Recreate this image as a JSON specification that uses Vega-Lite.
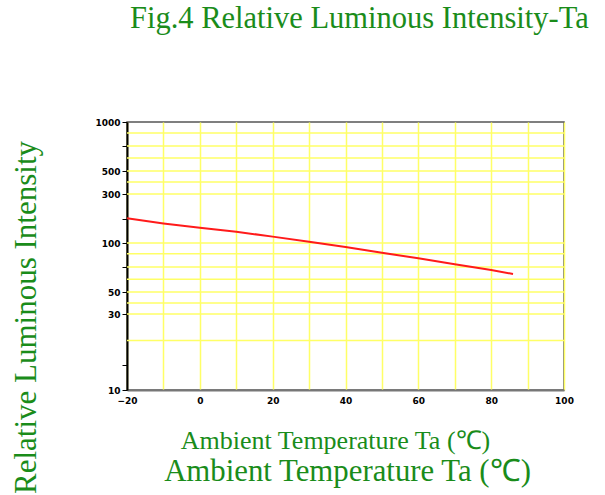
{
  "$schema": "https://vega.github.io/schema/vega-lite/v6.json",
  "width": 437,
  "height": 268,
  "autosize": "none",
  "padding": {"left": 127, "top": 122, "right": 41, "bottom": 105},
  "background": "white",
  "config": {
    "view": {"stroke": "#555555", "strokeWidth": 1.5},
    "axis": {"labelOverlap": false}
  },
  "title": {
    "text": "Fig.4 Relative Luminous Intensity-Ta",
    "font": "Liberation Serif",
    "fontSize": 30.5,
    "fontWeight": "normal",
    "color": "#1a8c1a",
    "anchor": "start",
    "frame": "group",
    "dx": 3,
    "offset": 84
  },
  "datasets": {
    "grid": [
      {"g": 888}, {"g": 755}, {"g": 633}, {"g": 500}, {"g": 404}, {"g": 300},
      {"g": 100}, {"g": 89}, {"g": 75.5}, {"g": 63}, {"g": 50}, {"g": 40},
      {"g": 30}, {"g": 23}
    ],
    "curve": [
      {"ta": -20, "iv": 201},
      {"ta": -10, "iv": 180},
      {"ta": 0, "iv": 162},
      {"ta": 10, "iv": 146},
      {"ta": 20, "iv": 126},
      {"ta": 30, "iv": 105},
      {"ta": 40, "iv": 96},
      {"ta": 50, "iv": 90},
      {"ta": 60, "iv": 84.4},
      {"ta": 70, "iv": 78.3},
      {"ta": 80, "iv": 72.4},
      {"ta": 86, "iv": 68.4}
    ]
  },
  "layer": [
    {
      "data": {"name": "grid"},
      "mark": {"type": "rule", "color": "#ffff66", "strokeWidth": 1.5},
      "encoding": {
        "y": {
          "field": "g",
          "type": "quantitative",
          "scale": {"type": "linear", "domain": [10, 30, 50, 100, 300, 500, 1000], "range": [268, 192, 170, 121, 72, 49, 0], "zero": false, "nice": false},
          "axis": {
            "values": [1000, 755, 500, 300, 200, 100, 75.5, 50, 30, 16.6, 10],
            "tickCount": 30,
            "format": "d",
            "labelExpr": "(datum.value == 1000 || datum.value == 500 || datum.value == 300 || datum.value == 100 || datum.value == 50 || datum.value == 30 || datum.value == 10) ? datum.label : ''",
            "labelOverlap": false,
            "grid": false,
            "ticks": true,
            "tickColor": "black",
            "tickSize": 5,
            "tickWidth": 1,
            "domainColor": "black",
            "domainWidth": 2,
            "labelFont": "DejaVu Sans",
            "labelFontWeight": "bold",
            "labelFontSize": 9,
            "labelColor": "black",
            "labelPadding": 2,
            "labelFlush": false,
            "title": "Relative Luminous Intensity",
            "titleFont": "Liberation Serif",
            "titleFontSize": 31,
            "titleFontWeight": "normal",
            "titleColor": "#1a8c1a",
            "titleX": -92,
            "titleY": 195,
            "titleAngle": 270,
            "titleAlign": "center",
            "titleBaseline": "alphabetic"
          }
        }
      }
    },
    {
      "data": {"name": "curve"},
      "mark": {"type": "line", "opacity": 0},
      "encoding": {
        "x": {
          "field": "ta",
          "type": "quantitative",
          "scale": {"domain": [-20, 100], "nice": false, "zero": false},
          "axis": {
            "orient": "bottom",
            "labels": false,
            "ticks": false,
            "domain": false,
            "grid": false,
            "title": "Ambient Temperature Ta (℃)",
            "titleFont": "Liberation Serif",
            "titleFontSize": 30.8,
            "titleFontWeight": "normal",
            "titleColor": "#1a8c1a",
            "titleX": 220,
            "titleY": 90,
            "titleBaseline": "alphabetic"
          }
        }
      }
    },
    {
      "data": {"name": "curve"},
      "mark": {"type": "line", "color": "#ff1a1a", "strokeWidth": 2},
      "encoding": {
        "x": {
          "field": "ta",
          "type": "quantitative",
          "scale": {"domain": [-20, 100], "nice": false, "zero": false},
          "axis": {
            "orient": "bottom",
            "values": [-20, -10, 0, 10, 20, 30, 40, 50, 60, 70, 80, 90, 100],
            "tickCount": 30,
            "labelExpr": "datum.value % 20 === 0 ? datum.label : ''",
            "labelOverlap": false,
            "grid": true,
            "gridColor": "#ffff66",
            "gridWidth": 1.5,
            "ticks": false,
            "domainColor": "#777777",
            "domainWidth": 2,
            "labelFont": "DejaVu Sans",
            "labelFontWeight": "bold",
            "labelFontSize": 9,
            "labelColor": "black",
            "labelPadding": 6,
            "labelFlush": false,
            "title": "Ambient Temperature Ta (℃)",
            "titleFont": "Liberation Serif",
            "titleFontSize": 26,
            "titleFontWeight": "normal",
            "titleColor": "#1a8c1a",
            "titleX": 208,
            "titleY": 58,
            "titleBaseline": "alphabetic"
          }
        },
        "y": {
          "field": "iv",
          "type": "quantitative",
          "axis": {"labelOverlap": false, "tickCount": 30}
        }
      }
    }
  ],
  "resolve": {"axis": {"x": "independent"}}
}
